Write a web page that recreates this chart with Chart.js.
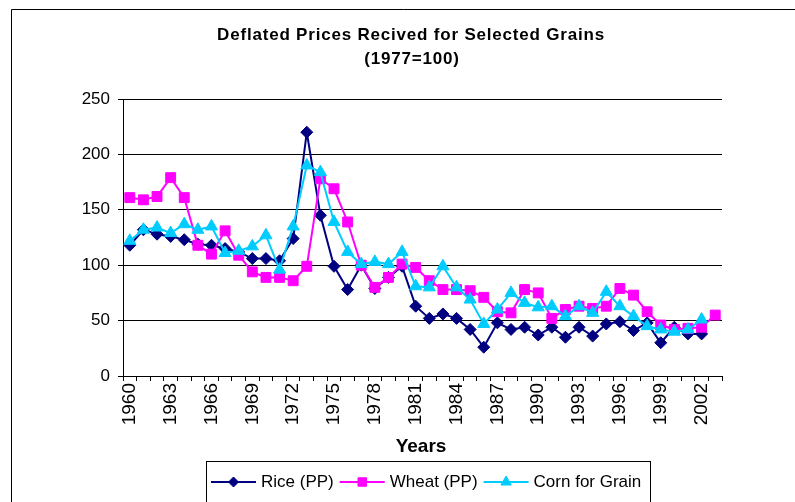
<!DOCTYPE html>
<html>
<head>
<meta charset="utf-8">
<script src="https://cdn.jsdelivr.net/npm/chart.js@4/dist/chart.umd.min.js"></script>
<style>
  body { margin: 0; background: #fff; }
  canvas { display: block; }
</style>
</head>
<body>
<canvas id="grains" width="795" height="502"></canvas>
<script>
// dados
const years = ['1960','1961','1962','1963','1964','1965','1966','1967','1968','1969',
  '1970','1971','1972','1973','1974','1975','1976','1977','1978','1979',
  '1980','1981','1982','1983','1984','1985','1986','1987','1988','1989',
  '1990','1991','1992','1993','1994','1995','1996','1997','1998','1999',
  '2000','2001','2002','2003'];

const rice = [118,132,128,126,123,119,118,115,112,106,
  106,104,124,220,145,99,78,100,79,89,
  99,63,52,56,52,42,26,48,42,44,
  37,44,35,44,36,47,49,41,48,30,
  44,38,38,null];

const wheat = [161,159,162,179,161,118,110,131,109,94,
  89,89,86,99,178,169,139,100,80,89,
  101,98,86,78,78,77,71,58,57,78,
  75,52,60,63,61,63,79,73,58,46,
  42,43,44,55];

const corn = [122,132,134,129,137,132,135,111,113,117,
  127,96,135,190,184,139,112,101,103,101,
  112,81,80,99,80,69,47,60,75,66,
  62,63,54,63,57,76,63,54,45,42,
  40,42,51,null];

const yTicks = [0, 50, 100, 150, 200, 250];

const FONT = 'Liberation Sans, Arial, sans-serif';

// título, moldura, título do eixo e legenda desenhados à mão
const decor = {
  id: 'decor',
  afterDraw(chart) {
    const ctx = chart.ctx;
    ctx.save();
    // moldura
    ctx.strokeStyle = '#000';
    ctx.lineWidth = 1;
    ctx.beginPath();
    ctx.moveTo(11.5, 510);
    ctx.lineTo(11.5, 9.5);
    ctx.lineTo(800, 9.5);
    ctx.stroke();

    // título
    ctx.fillStyle = '#000';
    ctx.textAlign = 'center';
    ctx.textBaseline = 'middle';
    ctx.font = 'bold 17px ' + FONT;
    ctx.letterSpacing = '0.8px';
    ctx.fillText('Deflated Prices Recived for Selected Grains', 411, 35);
    ctx.fillText('(1977=100)', 412, 59);
    ctx.letterSpacing = '0px';

    // título do eixo X
    ctx.font = 'bold 19px ' + FONT;
    ctx.fillText('Years', 421, 447);

    // legenda
    ctx.strokeRect(206.5, 461.5, 444, 60);
    ctx.font = '17px ' + FONT;
    ctx.textAlign = 'left';
    let x = 211;
    const y = 482;
    chart.data.datasets.slice().sort((a, b) => b.order - a.order).forEach(ds => {
      ctx.strokeStyle = ds.borderColor;
      ctx.lineWidth = 2;
      ctx.beginPath();
      ctx.moveTo(x, y);
      ctx.lineTo(x + 45, y);
      ctx.stroke();
      ctx.fillStyle = ds.backgroundColor;
      ctx.strokeStyle = ds.borderColor;
      ctx.lineWidth = 1;
      Chart.helpers.drawPoint(ctx, { pointStyle: ds.pointStyle, radius: ds.pointRadius - 1, rotation: 0, borderWidth: 1 }, x + 22.5, y);
      ctx.fillStyle = '#000';
      ctx.fillText(ds.label, x + 50, y);
      x += 50 + ctx.measureText(ds.label).width + 6;
    });
    ctx.restore();
  }
};

const ctx = document.getElementById('grains').getContext('2d');

const grainsChart = new Chart(ctx, {
  type: 'line',
  data: {
    labels: years,
    datasets: [
      {
        label: 'Rice (PP)',
        data: rice,
        borderColor: '#000080',
        backgroundColor: '#000080',
        borderWidth: 2,
        pointStyle: 'rectRot',
        pointRadius: 6,
        pointBorderWidth: 1,
        tension: 0,
        order: 3
      },
      {
        label: 'Wheat (PP)',
        data: wheat,
        borderColor: '#FF00FF',
        backgroundColor: '#FF00FF',
        borderWidth: 2,
        pointStyle: 'rect',
        pointRadius: 7,
        pointBorderWidth: 1,
        tension: 0,
        order: 2
      },
      {
        label: 'Corn for Grain',
        data: corn,
        borderColor: '#00CCFF',
        backgroundColor: '#00CCFF',
        borderWidth: 2,
        pointStyle: 'triangle',
        pointRadius: 7,
        pointBorderWidth: 1,
        tension: 0,
        order: 1
      }
    ]
  },
  options: {
    responsive: false,
    animation: false,
    layout: { padding: { top: 99, right: 73, bottom: 0, left: 0 } },
    scales: {
      x: {
        offset: true,
        afterFit: s => { s.height = 126; },
        grid: { drawOnChartArea: false, offset: true, color: '#000', tickLength: 5 },
        border: { color: '#000', width: 1 },
        ticks: {
          autoSkip: false,
          minRotation: 90,
          maxRotation: 90,
          padding: 2,
          color: '#000',
          font: { family: FONT, size: 19 },
          callback: (v, i) => (i % 3 === 0 ? years[i] : '')
        }
      },
      y: {
        min: 0,
        max: 250,
        afterFit: s => { s.width = 123; },
        afterBuildTicks: s => { s.ticks = yTicks.map(v => ({ value: v })); },
        grid: { color: '#000', tickLength: 5 },
        border: { color: '#000', width: 1 },
        ticks: {
          padding: 8,
          color: '#000',
          font: { family: FONT, size: 17 }
        }
      }
    },
    plugins: {
      legend: { display: false },
      tooltip: { enabled: false }
    }
  },
  plugins: [decor]
});
</script>
</body>
</html>
